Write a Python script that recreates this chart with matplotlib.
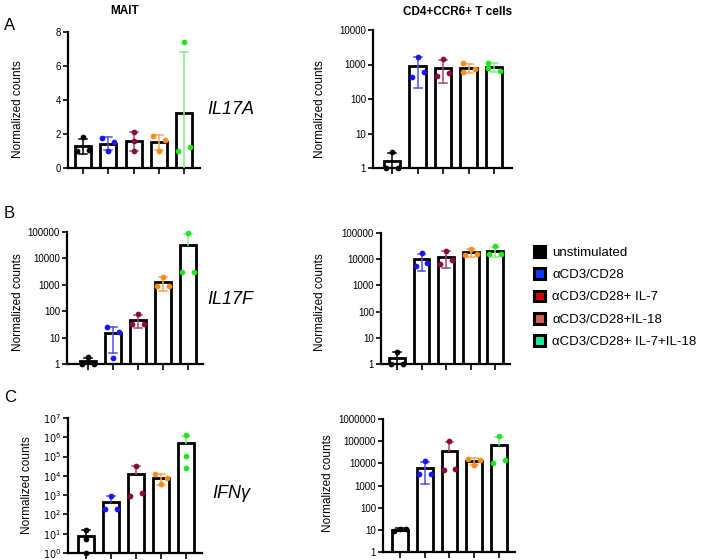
import numpy as np
import matplotlib
matplotlib.use("Agg")
import matplotlib.pyplot as plt
from matplotlib.patches import Patch
from matplotlib.ticker import FixedLocator, NullLocator, FixedFormatter

plt.rcParams['font.family'] = ['Liberation Sans', 'DejaVu Sans']

# ---------------- data ----------------
groups = ["unstimulated", "\u03b1CD3/CD28", "\u03b1CD3/CD28+ IL-7",
          "\u03b1CD3/CD28+IL-18", "\u03b1CD3/CD28+ IL-7+IL-18"]

mait_il17a = [[1.8, 1.0, 1.05], [1.77, 1.54, 1.0], [2.13, 1.6, 1.0],
              [1.87, 1.67, 1.0], [7.4, 1.0, 1.24]]
cd4_il17a = [[2.9, 1.0, 1.0], [1700, 421, 600], [1400, 461, 560],
             [1100, 620, 720], [1100, 640, 800]]
mait_il17f = [[1.8, 1.0, 1.0], [25, 16.8, 1.7], [76, 33, 33],
              [2030, 875, 875], [91000, 3150, 3150]]
cd4_il17f = [[2.97, 1.0, 1.0], [17200, 5620, 7080], [21000, 6300, 9550],
             [25000, 14400, 15800], [31600, 16300, 16300]]
mait_ifng = [[16.4, 5.6, 1.0], [933, 181, 181], [34000, 895, 1350],
             [12000, 7400, 3640], [1.3e6, 110000, 27000]]
cd4_ifng = [[8.6, 11, 11], [12600, 3400, 3400], [100000, 4900, 5300],
            [15900, 14400, 8000], [170000, 10200, 14400]]

ticks_lin = [0, 2, 4, 6, 8]
ticks_4 = [1, 10, 100, 1000, 10000]
ticks_5 = [1, 10, 100, 1000, 10000, 100000]
ticks_6 = [1, 10, 100, 1000, 10000, 100000, 1000000]
ticks_7 = [1e0, 1e1, 1e2, 1e3, 1e4, 1e5, 1e6, 1e7]
labels_7 = [r"$10^{%d}$" % i for i in range(8)]

# ---------------- styles ----------------
pt_colors = ["#000000", "#1414ff", "#8a0a3a", "#ff8a14", "#22e622"]
eb_colors = ["#000000", "#5050e6", "#a04870", "#f5a85a", "#86ec86"]
leg_colors = ["#000000", "#0a3cff", "#d40000", "#d2605a", "#1de8a0"]

J = 0.24
# jitter offsets (in bar units) for the three replicate points of each bar
jit_a_l = [[0, -J, J], [-J, J, 0], [0, 0, 0], [-J, J, 0], [0, -J, J]]
jit_a_r = [[0, -J, J], [0, -J, J], [0, -J, J], [-J, -J, J], [-J, J, -J]]
jit_b_l = [[0, -J, J], [-J, J, 0], [0, -J, J], [0, -J, J], [0, -J, J]]
jit_b_r = [[0, -J, J], [0, -J, J], [0, -J, J], [0, -J, J], [0, -J, J]]
jit_c_l = [[0, 0, 0], [0, -J, J], [0, -J, J], [-J, J, 0], [0, 0, 0]]
jit_c_r = [[-J, 0, J], [0, -J, J], [0, -J, J], [-J, J, 0], [0, -J, J]]

W, H = 709, 560
fig = plt.figure(figsize=(W / 100, H / 100), dpi=100)


def add_axes_px(left, right, top, bottom):
    return fig.add_axes([left / W, 1 - bottom / H, (right - left) / W, (bottom - top) / H])


def panel(box, data, jit, ticks, log, xlim, ymax, tlabels=None):
    ax = add_axes_px(*box)
    x = np.arange(len(data))
    means = [np.mean(d) for d in data]
    sds = [np.std(d, ddof=1) for d in data]
    bottom = 0 if not log else 1
    ax.bar(x, np.array(means) - bottom, bottom=bottom, width=0.64, color="white",
           edgecolor="black", linewidth=2.0, zorder=2)
    cw = 0.16
    for i in range(len(data)):
        lo = means[i] - sds[i]
        hi = means[i] + sds[i]
        col = eb_colors[i]
        ax.plot([x[i] - cw, x[i] + cw], [hi, hi], color=col, lw=1.1, zorder=3)
        if log and lo <= 0:
            ax.plot([x[i], x[i]], [means[i], hi], color=col, lw=1.1, zorder=3)
        elif not log and lo <= 0:
            ax.plot([x[i], x[i]], [0, hi], color=col, lw=1.1, zorder=3)
        else:
            ax.plot([x[i], x[i]], [lo, hi], color=col, lw=1.1, zorder=3)
            ax.plot([x[i] - cw, x[i] + cw], [lo, lo], color=col, lw=1.1, zorder=3)
        ax.scatter(x[i] + np.array(jit[i]), data[i], s=17, color=pt_colors[i],
                   zorder=4, clip_on=False, linewidths=0)
    if log:
        ax.set_yscale('log')
    ax.set_ylim(ticks[0], ymax)
    ax.set_xlim(*xlim)
    ax.yaxis.set_major_locator(FixedLocator(ticks))
    ax.yaxis.set_minor_locator(NullLocator())
    if tlabels is None:
        tlabels = [("%d" % t) for t in ticks]
    ax.yaxis.set_major_formatter(FixedFormatter(tlabels))
    ax.set_xticks(x)
    ax.set_xticklabels([])
    for s in ['top', 'right']:
        ax.spines[s].set_visible(False)
    for s in ['left', 'bottom']:
        ax.spines[s].set_linewidth(1.6)
    ax.tick_params(axis='x', length=4, width=1.2, direction='out')
    ax.tick_params(axis='y', length=3.5, width=1.2, direction='out', labelsize=7, pad=1.5)
    return ax


panel((68, 200, 32, 168), mait_il17a, jit_a_l, ticks_lin, False, (-0.6, 4.63), 8)
panel((373, 512, 30, 168), cd4_il17a, jit_a_r, ticks_4, True, (-0.75, 4.7), 10000)
panel((67, 203, 232, 364), mait_il17f, jit_b_l, ticks_5, True, (-0.84, 4.6), 100000)
panel((381, 510, 233, 364), cd4_il17f, jit_b_r, ticks_5, True, (-0.65, 4.6), 100000)
panel((68, 202, 418, 553), mait_ifng, jit_c_l, ticks_7, True, (-0.72, 4.64), 1e7, labels_7)
panel((383, 515, 419, 552), cd4_ifng, jit_c_r, ticks_6, True, (-0.69, 4.65), 1e6)


def ftext(xp, yp, s, **kw):
    fig.text(xp / W, 1 - yp / H, s, **kw)


ftext(125, 11, "MAIT", fontsize=8.5, fontweight='bold', ha='center', va='center')
ftext(458, 12, "CD4+CCR6+ T cells", fontsize=8.5, fontweight='bold', ha='center', va='center')
ftext(4, 25, "A", fontsize=12, ha='left', va='center')
ftext(4, 213, "B", fontsize=12, ha='left', va='center')
ftext(4, 398, "C", fontsize=12, ha='left', va='center')
ftext(207, 110, "IL17A", fontsize=13, style='italic', ha='left', va='center')
ftext(207, 300, "IL17F", fontsize=13, style='italic', ha='left', va='center')
ftext(212, 493, "IFN\u03b3", fontsize=13, style='italic', ha='left', va='center')

for xp, yp in [(18, 109), (320, 109), (18, 302), (320, 302), (27, 485), (328, 483)]:
    ftext(xp, yp, "Normalized counts", fontsize=8.5, rotation=90, ha='center', va='center')

handles = [Patch(facecolor=c, edgecolor='black', linewidth=2.2) for c in leg_colors]
fig.legend(handles, groups, loc='upper left', bbox_to_anchor=(534 / W, 1 - 246 / H),
           frameon=False, fontsize=9.5, handlelength=0.85, handleheight=0.85,
           handletextpad=0.55, labelspacing=0.72, borderpad=0, borderaxespad=0)

fig.savefig("out.png", dpi=100)
